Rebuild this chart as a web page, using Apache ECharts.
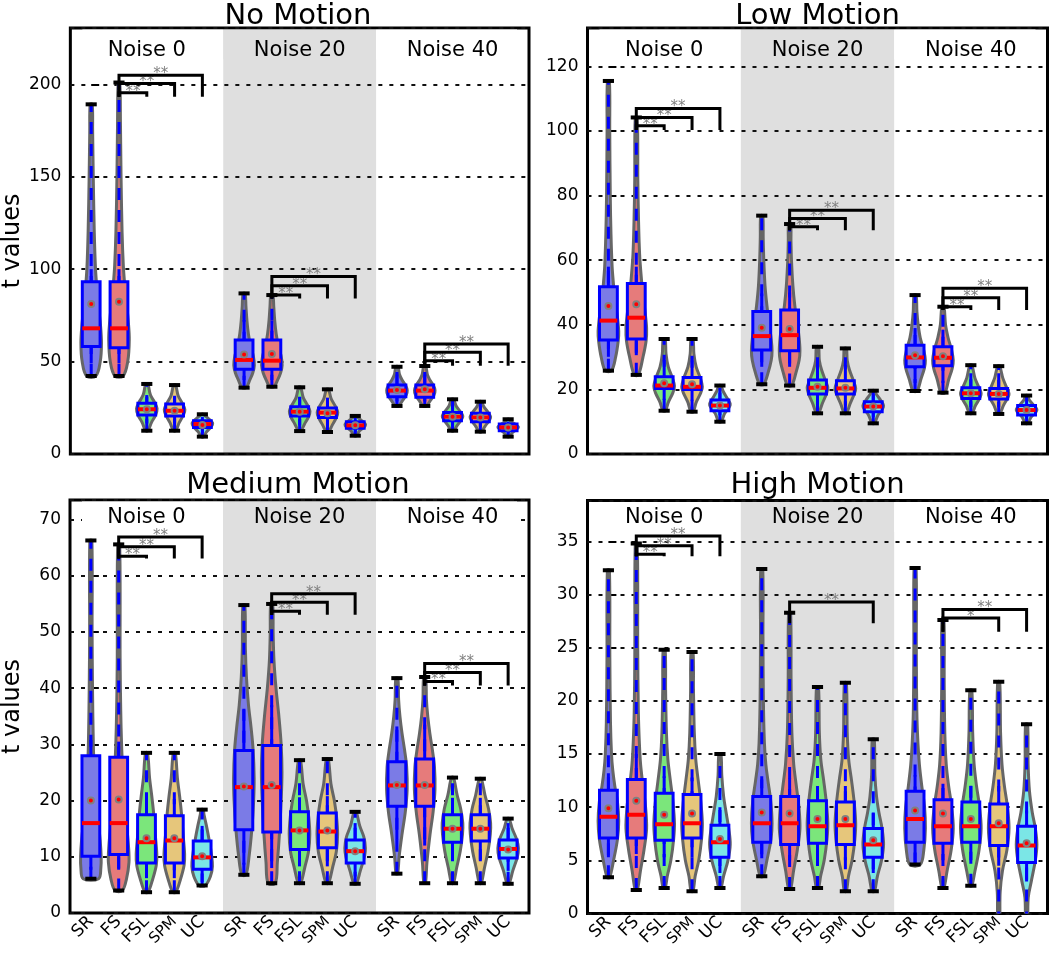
<!DOCTYPE html>
<html><head><meta charset="utf-8">
<script src="https://cdn.jsdelivr.net/npm/echarts@6/dist/echarts.min.js"></script>
<style>html,body{margin:0;padding:0;background:#fff}#c{width:1050px;height:957px}</style>
</head><body><div id="c"></div>
<script>
// ---------------- data ----------------
const methods = ['SR', 'FS', 'FSL', 'SPM', 'UC'];
const noiseLevels = ['Noise 0', 'Noise 20', 'Noise 40'];
const panelTitles = ['No Motion', 'Low Motion', 'Medium Motion', 'High Motion'];
const yMax = [230.5, 131.9, 73.5, 38.85];
const yStep = [50, 20, 10, 5];

// rows: [min, whiskerLow, q1, median, q3, whiskerHigh, max, mean]; order Noise0 SR..UC, Noise20 SR..UC, Noise40 SR..UC
const noMotionStats = [
  [42.2, 49, 58.1, 68, 93.2, 100, 189.2, 81.2],
  [42.2, 49, 57.5, 68, 93.2, 100, 201, 82.4],
  [12.6, 16.6, 21.1, 24.2, 27.4, 31.9, 37.9, 24.2],
  [12.6, 16.5, 20.6, 23.4, 27, 31.5, 37.3, 23.4],
  [9.4, 11.5, 14.4, 16.2, 18, 20, 21.5, 15.7],
  [35.9, 40, 45.8, 50.9, 61.7, 72.5, 86.9, 53.9],
  [36.4, 40, 45.8, 50.5, 61.7, 72, 86, 54.1],
  [12.4, 15.5, 20.6, 22.9, 25.6, 31, 36.1, 22.9],
  [11.9, 15, 19.8, 22.4, 24.9, 30.5, 35, 22],
  [9.9, 11.5, 13.9, 15.5, 17.5, 19.5, 20.6, 15.5],
  [26, 28.5, 31, 34.3, 37.3, 43, 47.2, 34.6],
  [26, 28.5, 30.7, 34.3, 37.3, 43, 47.6, 35],
  [12.6, 15, 18, 20.2, 22.4, 26.5, 29.6, 20.2],
  [12.1, 14.5, 17.5, 19.8, 22, 26, 28.3, 19.8],
  [9.4, 11, 12.6, 14.4, 16.2, 17.5, 18.8, 14.4]
];
const lowMotionStats = [
  [25.8, 30.1, 35.3, 41.3, 51.8, 58, 115.5, 45.8],
  [24.5, 30.6, 35.6, 42.2, 52.8, 58, 104.2, 46.4],
  [13.4, 16.7, 20.3, 21.2, 23.9, 29.1, 35.6, 21.9],
  [13.1, 16.5, 20, 20.8, 23.7, 29, 35.6, 21.6],
  [10, 12, 13.4, 15, 16.7, 19, 21.2, 15],
  [21.6, 27, 32.2, 36.5, 44.1, 49.7, 73.8, 39.1],
  [21.2, 27, 32, 36.8, 44.6, 50, 71.2, 38.7],
  [12.6, 15.5, 18.6, 20.5, 22.9, 28, 33.2, 20.8],
  [12.6, 15, 18.6, 20.3, 22.7, 27.5, 32.7, 20.5],
  [9.5, 11.5, 13.1, 14.7, 16.2, 18.5, 19.6, 14.7],
  [19.5, 22, 27, 29.9, 33.7, 39, 49.2, 30.6],
  [19, 22, 27.3, 29.8, 33.2, 38.5, 45.6, 30.3],
  [12.6, 14.5, 17.2, 18.8, 20.5, 25, 27.5, 18.8],
  [12.4, 14.5, 17, 18.6, 20.3, 25, 27.2, 18.6],
  [9.5, 11, 12.1, 13.6, 15, 16.5, 18.1, 13.6]
];
const mediumMotionStats = [
  [6.1, 7.7, 10.1, 16, 28, 30.8, 66.3, 20],
  [4, 7.7, 10.4, 16, 27.7, 30.5, 65.6, 20.2],
  [3.7, 6.2, 8.9, 12.6, 17.5, 20.3, 28.5, 13.3],
  [3.7, 6.2, 8.9, 12.9, 17.3, 20.3, 28.5, 13.3],
  [4.9, 5.5, 7.8, 9.9, 12.8, 15.5, 18.4, 10.1],
  [6.8, 8.6, 14.8, 22.4, 28.9, 36.2, 54.8, 22.5],
  [5.3, 8, 14.4, 22.4, 29.8, 37, 55, 22.8],
  [5.3, 8.3, 11.3, 14.7, 18, 20.6, 27.2, 14.7],
  [5.3, 8.3, 11.6, 14.5, 17.8, 20.8, 27.4, 14.7],
  [5.2, 6.5, 8.9, 11, 13, 16, 18, 11],
  [7, 13, 19, 22.7, 26.9, 33.2, 41.8, 22.8],
  [5.3, 12, 19, 22.7, 27.4, 33.5, 42, 22.8],
  [5.3, 9.5, 12.6, 15, 17.5, 20.5, 24.1, 15],
  [5.3, 9.5, 12.8, 15, 17.5, 20.5, 23.9, 15],
  [5.2, 7.5, 9.8, 11.4, 13, 16, 16.8, 11.3]
];
const highMotionStats = [
  [3.4, 5.3, 7.1, 9.1, 11.6, 13.2, 32.3, 9.9],
  [2.2, 5.6, 7.1, 9.3, 12.6, 15, 34.8, 10.6],
  [2.4, 5.3, 6.9, 8.4, 11.3, 12.9, 24.8, 9.3],
  [2.1, 5.3, 7.1, 8.5, 11.2, 12.8, 24.6, 9.4],
  [2.4, 3.8, 5.3, 6.7, 8.3, 10, 15, 7],
  [3.5, 5.2, 6.7, 8.5, 11, 12.6, 32.4, 9.5],
  [2.3, 5, 6.5, 8.5, 11, 12.7, 28.3, 9.4],
  [2.4, 5, 6.6, 8.2, 10.6, 12, 21.3, 8.9],
  [2.1, 5, 6.5, 8.3, 10.5, 12, 21.7, 8.9],
  [2.1, 3.8, 5.3, 6.5, 8, 9.5, 16.4, 6.9],
  [4.6, 4.6, 6.7, 8.9, 11.5, 13, 32.5, 9.7],
  [2.4, 5, 6.6, 8.2, 10.7, 12.2, 27.6, 9.4],
  [2.6, 5, 6.7, 8.2, 10.5, 12, 21, 8.9],
  [-3, 4.5, 6.4, 8.2, 10.3, 12, 21.8, 8.5],
  [-3, 3, 4.8, 6.4, 8.2, 9.7, 17.8, 6.6]
];

// violin outlines: [value, relative density width]
const noMotionShape = [
  [[42.2,.45],[50,.88],[60,1],[70,.9],[80,.7],[90,.55],[100,.42],[120,.3],[150,.2],[175,.14],[189.2,.1]],
  [[42.2,.4],[50,.85],[62,1],[72,.9],[82,.72],[92,.55],[102,.42],[120,.3],[150,.2],[180,.14],[201,.08]],
  [[12.6,.12],[17,.45],[21,.85],[24.5,1],[28,.75],[32,.35],[37.9,.1]],
  [[12.6,.12],[17,.45],[21,.85],[24,1],[27.5,.75],[31.5,.35],[37.3,.1]],
  [[9.4,.12],[12,.4],[14.5,.82],[16.5,1],[18.5,.72],[20.5,.3],[21.5,.1]],
  [[35.9,.2],[40,.55],[44,.85],[48,1],[53,.9],[58,.65],[65,.42],[72,.28],[80,.18],[86.9,.1]],
  [[36.4,.2],[40,.55],[44,.85],[48,1],[53,.9],[58,.65],[65,.42],[72,.28],[80,.18],[86,.1]],
  [[12.4,.12],[16,.45],[20,.85],[23,1],[26.5,.75],[30.5,.35],[36.1,.1]],
  [[11.9,.12],[15.5,.45],[19.5,.85],[22.5,1],[26,.75],[30,.35],[35,.1]],
  [[9.9,.12],[12.5,.4],[14.5,.85],[16,1],[17.5,.75],[19.5,.3],[20.6,.1]],
  [[26,.15],[29,.55],[32,.9],[34.5,1],[37,.85],[40,.5],[43,.25],[47.2,.1]],
  [[26,.15],[29,.55],[32,.9],[34.5,1],[37,.85],[40,.5],[43,.25],[47.6,.1]],
  [[12.6,.12],[15.5,.45],[18.5,.85],[20.5,1],[23,.75],[26,.35],[29.6,.1]],
  [[12.1,.12],[15,.45],[18,.85],[20,1],[22.5,.75],[25.5,.35],[28.3,.1]],
  [[9.4,.12],[11.5,.4],[13.5,.85],[14.5,1],[15.8,.75],[17.5,.3],[18.8,.1]]
];
const lowMotionShape = [
  [[25.8,.3],[30,.7],[35,.95],[38,1],[43,.85],[48,.62],[53,.48],[58,.36],[68,.25],[80,.18],[100,.13],[115.5,.1]],
  [[24.5,.2],[30,.65],[35,.95],[39,1],[44,.85],[50,.62],[56,.45],[62,.32],[72,.22],[85,.15],[104.2,.1]],
  [[13.4,.12],[16,.4],[19,.85],[21,1],[23.5,.8],[27,.4],[31,.18],[35.6,.1]],
  [[13.1,.12],[16,.4],[19,.85],[20.8,1],[23.5,.8],[27,.4],[31,.18],[35.6,.1]],
  [[10,.12],[12.5,.45],[14.5,.9],[15.5,1],[17,.75],[19.5,.3],[21.2,.1]],
  [[21.6,.2],[25,.6],[29,.92],[32,1],[36,.9],[41,.7],[46,.5],[52,.32],[60,.2],[67,.14],[73.8,.1]],
  [[21.2,.2],[25,.6],[29,.92],[32,1],[36,.92],[41,.72],[46,.5],[52,.32],[60,.18],[66,.13],[71.2,.1]],
  [[12.6,.12],[15.5,.45],[18.5,.85],[20.5,1],[22.5,.8],[26,.4],[29,.18],[33.2,.1]],
  [[12.6,.12],[15.5,.45],[18.5,.85],[20.3,1],[22.5,.8],[26,.4],[29,.18],[32.7,.1]],
  [[9.5,.12],[12,.45],[14,.9],[15,1],[16.5,.75],[18.5,.3],[19.6,.1]],
  [[19.5,.2],[23,.55],[26.5,.9],[29,1],[32,.85],[36,.5],[40,.3],[44,.18],[49.2,.1]],
  [[19,.2],[23,.55],[26.5,.9],[29,1],[32,.85],[36,.5],[40,.25],[45.6,.1]],
  [[12.6,.12],[15,.45],[17.5,.9],[18.8,1],[20.5,.8],[23.5,.4],[27.5,.1]],
  [[12.4,.12],[15,.45],[17.5,.9],[18.6,1],[20.3,.8],[23.5,.4],[27.2,.1]],
  [[9.5,.12],[11.5,.45],[13,.9],[13.8,1],[15,.7],[16.8,.25],[18.1,.1]]
];
const mediumMotionShape = [
  [[6.1,.75],[8,.97],[10,1],[13,.9],[16,.72],[20,.5],[25,.34],[30,.24],[40,.16],[50,.12],[66.3,.1]],
  [[4,.35],[6,.75],[9,1],[12,.95],[16,.75],[20,.55],[25,.4],[30,.28],[36,.2],[45,.14],[65.6,.1]],
  [[3.7,.15],[6,.6],[8.5,.95],[10.5,1],[14,.85],[18,.68],[21,.5],[24,.3],[28.5,.1]],
  [[3.7,.15],[6,.6],[8.5,.95],[10.5,1],[14,.85],[18,.68],[21,.5],[24,.3],[28.5,.1]],
  [[4.9,.3],[6.5,.8],[8.3,1],[10.5,.9],[13,.68],[15.5,.42],[17.5,.18],[18.4,.1]],
  [[6.8,.2],[10,.5],[15,.78],[20,.95],[24,1],[29,.9],[33,.7],[37,.45],[42,.25],[47,.15],[54.8,.1]],
  [[5.3,.35],[9,.55],[14,.75],[20,.92],[25,1],[30,.92],[35,.7],[40,.42],[45,.22],[50,.14],[55,.1]],
  [[5.3,.12],[8,.5],[11,.88],[14,1],[17,.9],[20,.68],[23,.35],[27.2,.1]],
  [[5.3,.12],[8,.5],[11,.88],[14,1],[17,.9],[20,.68],[23,.35],[27.4,.1]],
  [[5.2,.12],[7.5,.5],[10,.9],[11.5,1],[13.5,.85],[15.5,.45],[18,.1]],
  [[7,.08],[10,.22],[14,.5],[18,.82],[22,1],[26,.95],[29,.75],[32,.5],[35,.3],[38,.17],[41.8,.1]],
  [[5.3,.08],[9,.22],[14,.52],[18,.82],[22,1],[26,.95],[29,.75],[32,.5],[35,.3],[38,.17],[42,.1]],
  [[5.3,.1],[8,.4],[11,.75],[14,.97],[16,1],[18.5,.8],[21,.45],[24.1,.1]],
  [[5.3,.1],[8,.4],[11,.75],[14,.97],[16,1],[18.5,.8],[21,.45],[23.9,.1]],
  [[5.2,.1],[7.5,.45],[10,.9],[11.5,1],[13,.85],[15,.4],[16.8,.1]]
];
const highMotionShape = [
  [[3.4,.12],[5,.5],[7,.88],[8.7,1],[10.5,.88],[12,.62],[13.5,.42],[15,.3],[18,.2],[24,.14],[32.3,.1]],
  [[2.2,.1],[4,.4],[6,.75],[8,1],[10,.9],[12,.65],[14,.42],[16,.3],[19,.2],[25,.14],[34.8,.1]],
  [[2.4,.1],[3.5,.3],[5,.65],[7,.92],[8.5,1],[10.5,.85],[12.5,.6],[14.5,.36],[17,.22],[21,.14],[24.8,.1]],
  [[2.1,.1],[3.5,.3],[5,.65],[7,.92],[8.5,1],[10.5,.85],[12.5,.6],[14.5,.36],[17,.22],[21,.14],[24.6,.1]],
  [[2.4,.1],[3.5,.35],[5,.78],[6.5,1],[8,.85],[9.5,.6],[11,.36],[13,.18],[15,.1]],
  [[3.5,.15],[5,.5],[7,.9],[8.5,1],[10.5,.88],[12.5,.6],[14,.4],[16,.26],[20,.16],[26,.12],[32.4,.1]],
  [[2.3,.1],[4,.38],[6,.75],[8,1],[10,.9],[12,.65],[14,.4],[17,.22],[22,.14],[28.3,.1]],
  [[2.4,.1],[3.5,.3],[5,.65],[7,.92],[8.5,1],[10.5,.85],[12.5,.6],[14.5,.32],[17,.18],[21.3,.1]],
  [[2.1,.1],[3.5,.3],[5,.65],[7,.92],[8.5,1],[10.5,.85],[12.5,.6],[14.5,.32],[17,.18],[21.7,.1]],
  [[2.1,.12],[3.5,.4],[5,.8],[6.5,1],[8,.85],[9.5,.55],[11,.32],[13,.16],[16.4,.1]],
  [[4.6,.5],[6,.85],[8,1],[10,.92],[12,.65],[14,.42],[16,.28],[19,.17],[25,.12],[32.5,.1]],
  [[2.4,.1],[4,.4],[6,.8],[8,1],[10,.85],[12,.55],[14,.32],[17,.18],[22,.12],[27.6,.1]],
  [[2.6,.1],[4,.4],[6,.8],[8,1],[10,.85],[12,.55],[14,.32],[17,.18],[21,.1]],
  [[-1,.08],[2,.14],[4,.36],[6,.8],[8,1],[10,.85],[12,.55],[14,.32],[17,.18],[21.8,.1]],
  [[-1,.08],[1.5,.16],[3,.45],[5,.85],[6.5,1],[8,.85],[9.5,.55],[11.5,.28],[14,.15],[17.8,.1]]
];

// significance brackets: [noise group, target method index (from FS), bracket height, drop-to value, label]
const noMotionBrackets = [
  [0,2,195.5,193.3,'**'],[0,3,200.5,193.3,'**'],[0,4,205,193.3,'**'],
  [1,2,86,84.2,'**'],[1,3,91,84.2,'**'],[1,4,96,84.2,'**'],
  [2,2,50.5,47.8,'**'],[2,3,55,47.8,'**'],[2,4,59.5,47.8,'**']
];
const lowMotionBrackets = [
  [0,2,101.6,100.3,'**'],[0,3,104.2,100.3,'**'],[0,4,107,100.3,'**'],
  [1,2,70.4,69.3,'**'],[1,3,72.9,69.3,'**'],[1,4,75.5,69.3,'**'],
  [2,2,45.6,44.6,'**'],[2,3,48.4,44.6,'**'],[2,4,51.3,44.6,'**']
];
const mediumMotionBrackets = [
  [0,2,63.5,63.1,'**'],[0,3,65.2,63.1,'**'],[0,4,66.9,63.1,'**'],
  [1,2,53.7,53.1,'**'],[1,3,55.3,53.1,'**'],[1,4,56.8,53.1,'**'],
  [2,2,41.2,40.5,'**'],[2,3,42.8,40.5,'**'],[2,4,44.4,40.5,'**']
];
const highMotionBrackets = [
  [0,2,33.8,33.6,'**'],[0,3,34.6,33.6,'**'],[0,4,35.5,33.6,'**'],
  [1,4,29.3,27.3,'**'],
  [2,3,27.8,26.5,'*'],[2,4,28.6,26.5,'**']
];

// ---------------- layout / style ----------------
const FONT = 'DejaVu Sans';
const fills = ['#7b7be6', '#e67b7b', '#7be67b', '#e6c67b', '#7be6e6'];
const BAND = '#dfdfdf';
const grids = [
  {left: 67, top: 28, width: 462, height: 426, head: 23, titleY: 16, xLabels: false},
  {left: 587.5, top: 28, width: 460, height: 426, head: 23, titleY: 16, xLabels: false},
  {left: 67, top: 500, width: 462, height: 413, head: 18, titleY: 485, xLabels: true},
  {left: 587.5, top: 500.5, width: 460, height: 413, head: 17.5, titleY: 485, xLabels: true}
];
const allStats = [noMotionStats, lowMotionStats, mediumMotionStats, highMotionStats];
const allShapes = [noMotionShape, lowMotionShape, mediumMotionShape, highMotionShape];
const allBrackets = [noMotionBrackets, lowMotionBrackets, mediumMotionBrackets, highMotionBrackets];
const X_MIN = -0.75, X_MAX = 15.75, GROUP_STEP = 5.5;
const VW = 0.37, BH = 0.32, CH = 0.2;
const xOf = i => Math.floor(i / 5) * GROUP_STEP + (i % 5);
const xPositions = noMotionStats.map((s, i) => xOf(i));

function seg(a, b, style) {
  return {type: 'line', shape: {x1: a[0], y1: a[1], x2: b[0], y2: b[1]}, style: style};
}

function renderViolin(p) {
  return function (params, api) {
    const i = params.dataIndex, m = i % 5, x = api.value(0);
    const s = allStats[p][i];
    const mn = s[0], wlo = s[1], q1 = s[2], med = s[3], q3 = s[4], whi = s[5], mx = s[6], mean = s[7];
    const k = allShapes[p][i];
    const c = (xx, v) => api.coord([xx, v]);
    const pts = [];
    k.forEach(kv => pts.push(c(x + VW * kv[1], kv[0])));
    for (let j = k.length - 1; j >= 0; j--) pts.push(c(x - VW * k[j][1], k[j][0]));
    const ch = [];
    ch.push({type: 'polygon', shape: {points: pts, smooth: 0.35}, style: {fill: fills[m], stroke: '#666666', lineWidth: 3}});
    ch.push(seg(c(x, mn), c(x, mx), {stroke: '#0000ff', lineWidth: 3, lineDash: [12, 10]}));
    ch.push(seg(c(x, wlo), c(x, q1), {stroke: '#0000ff', lineWidth: 3}));
    ch.push(seg(c(x, q3), c(x, whi), {stroke: '#0000ff', lineWidth: 3}));
    const a = c(x - BH, q3), b = c(x + BH, q1);
    ch.push({type: 'rect', shape: {x: a[0], y: a[1], width: b[0] - a[0], height: b[1] - a[1]},
      style: {fill: fills[m], stroke: '#0000ff', lineWidth: 3}});
    ch.push(seg(c(x - BH, med), c(x + BH, med), {stroke: '#ff0000', lineWidth: 4}));
    const mp = c(x, mean);
    ch.push({type: 'circle', shape: {cx: mp[0], cy: mp[1], r: 3}, style: {fill: '#ff0000', stroke: '#808080', lineWidth: 2}});
    ch.push(seg(c(x - CH, mn), c(x + CH, mn), {stroke: '#000', lineWidth: 4}));
    ch.push(seg(c(x - CH, mx), c(x + CH, mx), {stroke: '#000', lineWidth: 4}));
    return {type: 'group', children: ch};
  };
}

function renderBand(p) {
  return function (params, api) {
    const a = api.coord([api.value(0), yMax[p]]);
    const b = api.coord([api.value(1), 0]);
    return {type: 'rect', shape: {x: a[0], y: a[1], width: b[0] - a[0], height: b[1] - a[1]}, style: {fill: BAND}};
  };
}

function renderHeader(p) {
  return function (params, api) {
    const g = params.dataIndex;
    const gr = grids[p];
    let x0 = api.coord([g * GROUP_STEP + X_MIN, 0])[0];
    let x1 = api.coord([g * GROUP_STEP + X_MIN + GROUP_STEP, 0])[0];
    if (g === 0) x0 += 12;
    if (g === 2) x1 -= 12;
    const cx = api.coord([g * GROUP_STEP + 2, 0])[0];
    return {type: 'group', children: [
      {type: 'rect', shape: {x: x0, y: gr.top + 1.5, width: x1 - x0, height: 30}, style: {fill: g === 1 ? BAND : '#ffffff'}},
      {type: 'text', x: cx, y: gr.top + gr.head, style: {text: noiseLevels[g], fontSize: 21, fontFamily: FONT, fill: '#000', align: 'center', verticalAlign: 'middle'}}
    ]};
  };
}

function renderBracket(p) {
  return function (params, api) {
    const br = allBrackets[p][params.dataIndex];
    const x1 = br[0] * GROUP_STEP + 1, x2 = br[0] * GROUP_STEP + br[1];
    const pts = [api.coord([x1, br[3]]), api.coord([x1, br[2]]), api.coord([x2, br[2]]), api.coord([x2, br[3]])];
    const mid = api.coord([(x1 + x2) / 2, br[2]]);
    return {type: 'group', children: [
      {type: 'polyline', shape: {points: pts}, style: {stroke: '#000', lineWidth: 3, fill: null}},
      {type: 'text', x: mid[0], y: mid[1] - 1, style: {text: br[4], fontSize: 15, fontFamily: FONT, fill: '#808080', align: 'center', verticalAlign: 'middle'}}
    ]};
  };
}

function xLabelFormatter(v) {
  const i = xPositions.findIndex(x => Math.abs(x - v) < 1e-6);
  if (i < 0) return '';
  const name = methods[i % 5];
  return name === 'SPM' ? '{s|' + name + '}' : name;
}

const option = {
  animation: false,
  backgroundColor: '#ffffff',
  grid: grids.map(g => ({left: g.left, top: g.top, width: g.width, height: g.height, show: true,
    borderColor: '#000', borderWidth: 3, backgroundColor: 'transparent', containLabel: false})),
  xAxis: grids.map((g, p) => ({
    type: 'value', gridIndex: p, min: X_MIN, max: X_MAX,
    axisLine: {show: false}, axisTick: {show: false}, splitLine: {show: false},
    axisLabel: {show: g.xLabels, customValues: xPositions, rotate: 45, margin: 6, formatter: xLabelFormatter,
      fontSize: 17, fontFamily: FONT, color: '#000',
      rich: {s: {fontSize: 15, fontFamily: FONT, color: '#000'}}}
  })),
  yAxis: grids.map((g, p) => ({
    type: 'value', gridIndex: p, min: 0, max: yMax[p], interval: yStep[p],
    axisLine: {show: false},
    axisTick: {show: true, inside: true, length: 8, lineStyle: {color: '#000', width: 2}},
    axisLabel: {fontSize: 17, fontFamily: FONT, color: '#000', margin: 9, showMaxLabel: false},
    splitLine: {show: true, lineStyle: {color: '#111', width: 2, type: [4, 7]}},
    name: p % 2 === 0 ? 't values' : '',
    nameLocation: 'middle', nameGap: 45, nameRotate: 90,
    nameTextStyle: {fontSize: 24, fontFamily: FONT, color: '#000'}
  })),
  graphic: panelTitles.map((t, p) => ({
    type: 'text', x: grids[p].left + grids[p].width / 2, y: grids[p].titleY,
    style: {text: t, fontSize: 29, fontFamily: FONT, fill: '#000', align: 'center', verticalAlign: 'middle'}
  })),
  series: []
};

for (let p = 0; p < 4; p++) {
  option.series.push({type: 'custom', xAxisIndex: p, yAxisIndex: p, z: -1, silent: true,
    renderItem: renderBand(p), data: [[X_MIN + GROUP_STEP, X_MIN + 2 * GROUP_STEP]], encode: {x: [0, 1]}});
  option.series.push({type: 'custom', xAxisIndex: p, yAxisIndex: p, z: 2, clip: true, silent: true,
    renderItem: renderViolin(p), data: allStats[p].map((s, i) => [xOf(i), s[0], s[6]]), encode: {x: 0, y: [1, 2]}});
  option.series.push({type: 'custom', xAxisIndex: p, yAxisIndex: p, z: 3, silent: true,
    renderItem: renderHeader(p), data: noiseLevels.map((n, g) => [g * GROUP_STEP + 2, 0]), encode: {x: 0, y: 1}});
  option.series.push({type: 'custom', xAxisIndex: p, yAxisIndex: p, z: 4, silent: true,
    renderItem: renderBracket(p), data: allBrackets[p].map(b => [b[0] * GROUP_STEP + 1, b[2]]), encode: {x: 0, y: 1}});
}

const chart = echarts.init(document.getElementById('c'), null, {renderer: 'canvas'});
chart.setOption(option);
</script>
</body></html>
